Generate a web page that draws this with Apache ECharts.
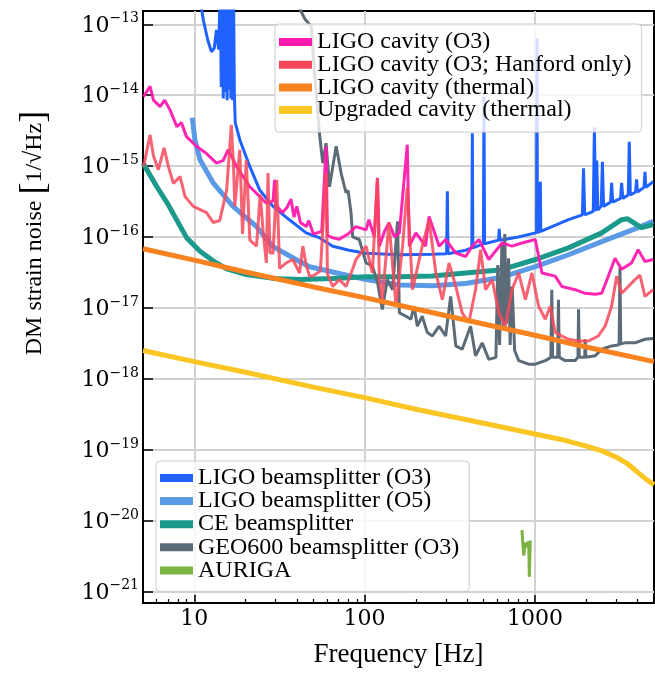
<!DOCTYPE html>
<html>
<head>
<meta charset="utf-8">
<script src="https://cdn.jsdelivr.net/npm/echarts@6/dist/echarts.min.js"></script>
<style>
  html, body { margin: 0; padding: 0; background: #fff; }
  #chart { width: 655px; height: 673px; }
</style>
</head>
<body>
<div id="chart"></div>
<script>
// [frequency Hz, DM strain noise 1/sqrt(Hz)]
var ligoCavO3 = [
  [5.04, 9.5e-15], [5.5, 1.33e-14], [5.76, 8.5e-15], [6.3, 6.9e-15], [6.7, 8.5e-15], [7.2, 6.2e-15],
  [7.9, 3.6e-15], [8.4, 4.1e-15], [9.0, 2.6e-15], [10.3, 1.9e-15], [11.8, 1.5e-15], [13.5, 1.1e-15],
  [14.8, 1.2e-15], [15.8, 1.7e-15], [16.5, 1.4e-15], [17.7, 9.8e-16], [21.2, 5.1e-16], [26.5, 3.0e-16],
  [29.0, 3.2e-16], [29.6, 6.4e-16], [30.2, 2.8e-16], [33, 2.2e-16], [35, 2.6e-16], [37, 3.4e-16],
  [38.5, 1.9e-16], [40, 2.7e-16], [42, 1.6e-16], [45.4, 1.4e-16], [47, 1.7e-16], [50, 1.1e-16],
  [56, 1.2e-16], [59.4, 1.9e-15], [60.5, 1.05e-16], [65, 9.7e-17], [71, 9.3e-17], [80, 1.1e-16],
  [89, 1.4e-16], [102, 1.26e-16], [106, 1.75e-16], [114, 1.0e-16], [119, 6.8e-16], [122, 7.4e-17],
  [131, 1.2e-16], [139, 1.58e-16], [150, 1.0e-16], [160, 1.14e-16], [178, 2e-15], [183, 7.4e-17],
  [200, 1.14e-16], [228, 7.4e-17], [239, 1.95e-16], [274, 7.4e-17], [299, 9.2e-17], [343, 5.9e-17],
  [392, 5.3e-17], [429, 7.4e-17], [469, 9.2e-17], [536, 4.8e-17], [641, 8.2e-17], [733, 7.4e-17],
  [839, 8.2e-17], [1005, 9.2e-17], [1099, 3.1e-17], [1315, 2.8e-17], [1439, 2.0e-17], [1722, 1.8e-17],
  [1972, 1.6e-17], [2254, 1.55e-17], [2466, 1.6e-17], [2698, 2.8e-17], [2951, 5.0e-17], [3228, 3.5e-17],
  [3690, 4.3e-17], [4036, 6.6e-17], [4425, 4.5e-17], [4943, 4.8e-17]
];
var ligoCavHanford = [
  [5.04, 9.8e-16], [5.5, 2.75e-15], [5.76, 1.4e-15], [6.15, 8.9e-16], [6.65, 1.8e-15], [7.05, 9.8e-16],
  [7.54, 5.7e-16], [8.25, 7.1e-16], [8.83, 3.7e-16], [9.87, 2.7e-16], [11.8, 2.2e-16], [12.9, 1.6e-16],
  [14.1, 1.7e-16], [15.5, 4.6e-16], [16.5, 3.8e-15], [17.0, 9.8e-16], [17.3, 2.7e-16], [18.5, 1.7e-15],
  [19.2, 1.1e-16], [20.2, 1.2e-15], [21.2, 9e-17], [23.2, 7.4e-17], [24.4, 4e-16], [25.4, 1.14e-16],
  [26.5, 4.3e-17], [27.1, 8e-16], [27.8, 6e-17], [29, 5.9e-17], [30.5, 6.4e-16], [31.7, 3.6e-17],
  [34.7, 4.3e-17], [37.9, 4.8e-17], [41.5, 3.1e-17], [43.4, 7.4e-17], [45.4, 4e-17], [47.5, 2.8e-17],
  [49.7, 2.8e-17], [55, 3.3e-17], [59.4, 8e-16], [60.5, 3e-17], [65, 2.0e-17], [71, 2.5e-17],
  [77.8, 2.0e-17], [85, 3.5e-17], [89, 4.8e-17], [102, 7.4e-17], [111, 3.1e-17], [119, 6.8e-16],
  [122, 2.5e-17], [127, 1.3e-17], [139, 1.6e-16], [153, 1.05e-17], [167, 7.4e-17], [178, 5e-16],
  [191, 1.8e-17], [218, 7.4e-17], [239, 1.75e-16], [262, 3.1e-17], [286, 1.3e-17], [313, 4.3e-17],
  [343, 2.0e-17], [374, 8.5e-18], [409, 6.2e-18], [448, 1.8e-17], [480, 6.6e-17], [513, 1.8e-17],
  [561, 2.5e-17], [614, 8.5e-18], [671, 5.5e-18], [733, 1.8e-17], [802, 3.1e-17], [879, 1.3e-17],
  [960, 3.1e-17], [1051, 1.05e-17], [1150, 6.9e-18], [1230, 1.05e-17], [1315, 4.5e-18], [1439, 4.0e-18],
  [1574, 3.6e-18], [1803, 3.4e-18], [2061, 3.4e-18], [2355, 4.0e-18], [2582, 5.5e-18], [2820, 1.05e-17],
  [3019, 2.8e-17], [3228, 1.6e-17], [3531, 2.0e-17], [3865, 2.5e-17], [4132, 2.9e-17], [4425, 1.45e-17],
  [4943, 1.8e-17]
];
var ligoCavThermal = [
  [5, 6.8e-17], [10, 4.7e-17], [20, 3.2e-17], [50, 1.97e-17], [100, 1.39e-17], [200, 9.6e-18],
  [500, 5.9e-18], [1000, 4.1e-18], [2000, 2.8e-18], [5000, 1.74e-18]
];
var upgradedCavThermal = [
  [5, 2.5e-18], [10, 1.74e-18], [20, 1.23e-18], [50, 7.6e-19], [100, 5.4e-19], [200, 3.7e-19],
  [500, 2.35e-19], [1000, 1.66e-19], [1500, 1.35e-19], [2000, 1.12e-19], [2500, 9.5e-20],
  [3000, 7.8e-20], [3500, 6.3e-20], [4000, 4.8e-20], [4500, 3.8e-20], [5000, 3.2e-20]
];
var ligoBsO3 = [
  [10.6, 3e-13], [11.3, 1.15e-13], [12.0, 6e-14], [12.6, 4.1e-14], [13.1, 4.6e-14], [13.5, 8.3e-14],
  [13.9, 4.4e-14], [14.2, 3e-13], [14.4, 1.3e-14], [14.6, 3e-13], [14.8, 9e-15], [15.0, 3e-13],
  [15.2, 1.1e-14], [15.4, 3e-13], [15.6, 8.5e-15], [15.8, 3e-13], [16.0, 1.2e-14], [16.2, 3e-13],
  [16.4, 9e-15], [16.6, 3e-13], [16.8, 8.5e-15], [17.0, 3e-13], [17.2, 1e-14], [17.4, 4.1e-15],
  [18.5, 2.35e-15], [21.2, 9.8e-16], [24.2, 4.6e-16], [29, 2.7e-16], [36.3, 1.73e-16], [45.4, 1.14e-16],
  [54, 9.8e-17], [65, 7.4e-17], [81, 6.5e-17], [102, 5.9e-17], [160, 5.6e-17], [250, 5.7e-17],
  [303, 5.8e-17], [306, 4.4e-16], [309, 5.8e-17], [392, 6.5e-17], [426, 7e-17], [429, 2.9e-15],
  [432, 7e-17], [498, 8e-17], [502, 9.5e-15], [506, 8e-17], [612, 9e-17], [617, 1.3e-16], [622, 9e-17],
  [800, 1.0e-16], [1022, 1.15e-16], [1028, 6.3e-14], [1034, 1.15e-16], [1070, 1.2e-16], [1076, 6e-16],
  [1082, 1.2e-16], [1574, 1.75e-16], [1900, 2.05e-16], [1928, 9.3e-16], [1960, 2.05e-16], [2200, 2.3e-16],
  [2234, 3.5e-15], [2270, 2.3e-16], [2305, 1.2e-15], [2340, 2.4e-16], [2450, 2.7e-16], [2489, 1.15e-15],
  [2530, 2.7e-16], [2780, 3.1e-16], [2820, 5.8e-16], [2860, 3.1e-16], [3180, 3.5e-16], [3228, 5.8e-16],
  [3280, 3.5e-16], [3530, 3.9e-16], [3580, 2.2e-15], [3630, 3.9e-16], [3900, 4.3e-16], [3950, 6.5e-16],
  [4000, 4.3e-16], [4370, 5e-16], [4425, 8.3e-16], [4480, 5e-16], [4943, 6e-16]
];
var ligoBsO5 = [
  [9.73, 4.8e-15], [10.1, 2.3e-15], [10.8, 1.23e-15], [12.9, 5.8e-16], [16.9, 2.7e-16], [23.2, 1.4e-16],
  [29, 7.3e-17], [41.5, 4.5e-17], [47.5, 3.8e-17], [65, 3.2e-17], [102, 2.5e-17], [160, 2.1e-17],
  [250, 2.05e-17], [392, 2.2e-17], [641, 2.7e-17], [1005, 3.8e-17], [1574, 5.6e-17], [2466, 8.6e-17],
  [3865, 1.3e-16], [4943, 1.66e-16]
];
var ceBs = [
  [5.0, 1.1e-15], [6.03, 5.1e-16], [7.0, 2.9e-16], [7.54, 2.1e-16], [9.03, 9.7e-17], [10.8, 6.3e-17],
  [12.9, 4.6e-17], [15.5, 3.55e-17], [20.2, 2.95e-17], [29, 2.6e-17], [41.5, 2.5e-17], [65, 2.6e-17],
  [102, 2.75e-17], [160, 2.75e-17], [250, 2.8e-17], [392, 3.1e-17], [641, 3.45e-17], [1005, 4.8e-17],
  [1574, 7.0e-17], [2466, 1.14e-16], [3228, 1.75e-16], [3500, 1.8e-16], [3690, 1.66e-16], [4226, 1.35e-16],
  [4943, 1.49e-16]
];
var geo600Bs = [
  [40, 2e-13], [44.5, 1.2e-13], [48.6, 9.3e-14], [50.9, 2e-14], [54.3, 2.9e-15], [56.8, 1.1e-15],
  [59.4, 2.1e-15], [62.2, 5.1e-16], [68.1, 1.9e-15], [72.8, 7.9e-16], [77.8, 4.2e-16], [80, 4.5e-16],
  [83.2, 2.2e-16], [85.1, 1.0e-16], [93, 9.2e-17], [102, 4.3e-17], [111, 3.9e-17], [119, 2.3e-17],
  [127, 9.5e-18], [136, 2.5e-17], [146, 1.8e-17], [156, 1.66e-16], [160, 8.5e-18], [175, 7.6e-18],
  [187, 6.9e-18], [195, 1.05e-17], [204, 5.5e-18], [218, 7.6e-18], [233, 4.5e-18], [250, 4.0e-18],
  [274, 5.5e-18], [299, 4.0e-18], [320, 1.45e-17], [343, 2.9e-18], [374, 2.6e-18], [419, 5.5e-18],
  [448, 2.1e-18], [490, 3.2e-18], [536, 1.87e-18], [590, 2e-18], [605, 4e-17], [620, 3e-18],
  [640, 8e-17], [655, 5e-18], [665, 1.1e-16], [680, 6e-18], [700, 5e-17], [715, 3e-18], [735, 2e-17],
  [760, 2.5e-18], [803, 1.8e-18], [918, 1.6e-18], [1005, 1.6e-18], [1150, 1.8e-18], [1240, 2e-18],
  [1256, 1.8e-17], [1270, 2e-18], [1360, 2e-18], [1374, 1.3e-17], [1390, 2e-18], [1505, 1.8e-18],
  [1722, 1.8e-18], [1790, 2e-18], [1803, 9.5e-18], [1820, 2e-18], [1960, 2e-18], [1972, 3.6e-18],
  [1990, 2e-18], [2254, 2.1e-18], [2466, 2.6e-18], [2820, 2.9e-18], [3120, 3e-18], [3155, 3.7e-17],
  [3190, 3.1e-18], [3380, 3.2e-18], [3865, 3.2e-18], [4425, 3.6e-18], [4943, 3.7e-18]
];
var auriga = [
  [839, 7.3e-21], [859, 3.2e-21], [880, 4.9e-21], [898, 4.2e-21], [919, 5.1e-21], [927, 1.6e-21], [939, 5.2e-21]
];

var xMajorTicks = [10, 100, 1000];
var xMinorTicks = [6, 7, 8, 9, 20, 30, 40, 50, 60, 70, 80, 90, 200, 300, 400, 500, 600, 700, 800, 900, 2000, 3000, 4000];
var yTicks = [1e-21, 1e-20, 1e-19, 1e-18, 1e-17, 1e-16, 1e-15, 1e-14, 1e-13];

var cavityNames = ['LIGO cavity (O3)', 'LIGO cavity (O3; Hanford only)', 'LIGO cavity (thermal)', 'Upgraded cavity (thermal)'];
var splitterNames = ['LIGO beamsplitter (O3)', 'LIGO beamsplitter (O5)', 'CE beamsplitter', 'GEO600 beamsplitter (O3)', 'AURIGA'];

var serif = 'Liberation Serif';
var tickFont = 'DejaVu Serif';

function lineSeries(name, data, color, width, opacity) {
  return {
    name: name,
    type: 'line',
    data: data,
    showSymbol: false,
    symbol: 'none',
    silent: true,
    color: color,
    lineStyle: { color: color, width: width, opacity: opacity }
  };
}

var chart = echarts.init(document.getElementById('chart'), null, { renderer: 'canvas' });

var legendBase = {
  orient: 'vertical',
  icon: 'rect',
  itemWidth: 33,
  itemHeight: 8,
  selectedMode: false,
  backgroundColor: 'rgba(255,255,255,0.8)',
  borderColor: '#cccccc',
  borderWidth: 1,
  borderRadius: 4,
  textStyle: { fontFamily: serif, fontSize: 24, color: '#000' }
};

var option = {
  animation: false,
  textStyle: { fontFamily: serif },
  grid: {
    left: 143, right: 1, top: 11, bottom: 69,
    show: true, borderColor: '#000', borderWidth: 2, backgroundColor: 'transparent'
  },
  legend: [
    Object.assign({}, legendBase, {
      data: cavityNames, left: 275, top: 24, itemGap: -1.3, padding: [6, 10, 10, 4]
    }),
    Object.assign({}, legendBase, {
      data: splitterNames, left: 156, top: 461, itemGap: -0.9, padding: [5, 10, 9, 4]
    })
  ],
  xAxis: [
    {
      type: 'log', logBase: 10, min: 5, max: 5000,
      name: 'Frequency [Hz]', nameLocation: 'middle', nameGap: 38,
      nameTextStyle: { fontFamily: serif, fontSize: 27, color: '#000' },
      axisLine: { show: true, lineStyle: { color: '#000', width: 2 } },
      axisTick: { show: true, inside: true, length: 8, customValues: xMajorTicks, lineStyle: { color: '#000', width: 1.5 } },
      axisLabel: {
        customValues: xMajorTicks, margin: 5, color: '#000', fontFamily: tickFont, fontSize: 22,
        formatter: function (v) { return String(Math.round(v)); }
      },
      splitLine: { show: true, lineStyle: { color: '#d2d2d2', width: 2 } }
    },
    {
      type: 'log', logBase: 10, min: 5, max: 5000, position: 'bottom',
      axisLine: { show: false },
      axisTick: { show: true, inside: true, length: 4, customValues: xMinorTicks, lineStyle: { color: '#000', width: 1.2 } },
      axisLabel: { show: false },
      splitLine: { show: false }
    }
  ],
  yAxis: {
    type: 'log', logBase: 10, min: 6.84e-22, max: 1.54e-13, splitNumber: 8,
    axisLine: { show: true, lineStyle: { color: '#000', width: 2 } },
    axisTick: { show: true, inside: true, length: 10, customValues: yTicks, lineStyle: { color: '#000', width: 1.5 } },
    axisLabel: {
      customValues: yTicks, margin: 4, color: '#000',
      formatter: function (v) {
        var e = Math.round(Math.log10(v));
        return '{b|10}{s|\u2212' + (-e) + '}';
      },
      rich: {
        b: { fontFamily: tickFont, fontSize: 22, color: '#000', verticalAlign: 'bottom' },
        s: { fontFamily: tickFont, fontSize: 14, color: '#000', verticalAlign: 'bottom', padding: [0, 0, 11, 0] }
      }
    },
    splitLine: { show: true, lineStyle: { color: '#d2d2d2', width: 2 } }
  },
  graphic: [
    {
      type: 'text', x: 35, y: 233, rotation: Math.PI / 2, silent: true,
      style: {
        text: '{t|DM strain noise }{br|[}{t|1/\u221AHz}{br|]}',
        align: 'center', verticalAlign: 'middle', fill: '#000',
        rich: {
          t: { fontFamily: serif, fontSize: 24, fill: '#000' },
          br: { fontFamily: serif, fontSize: 36, fill: '#000' }
        }
      }
    }
  ],
  series: [
    lineSeries('LIGO beamsplitter (O3)', ligoBsO3, '#1f62ff', 3, 1),
    lineSeries('LIGO beamsplitter (O5)', ligoBsO5, '#5a9ae6', 5, 1),
    lineSeries('CE beamsplitter', ceBs, '#1b9a8b', 5, 1),
    lineSeries('GEO600 beamsplitter (O3)', geo600Bs, '#5c6b78', 3, 1),
    lineSeries('AURIGA', auriga, '#7cb342', 3, 1),
    lineSeries('LIGO cavity (O3)', ligoCavO3, '#ff1aad', 3, 0.95),
    lineSeries('LIGO cavity (O3; Hanford only)', ligoCavHanford, '#f7485b', 3, 0.85),
    lineSeries('LIGO cavity (thermal)', ligoCavThermal, '#f7821f', 5, 1),
    lineSeries('Upgraded cavity (thermal)', upgradedCavThermal, '#fbc523', 5, 1)
  ]
};

chart.setOption(option);
</script>
</body>
</html>
